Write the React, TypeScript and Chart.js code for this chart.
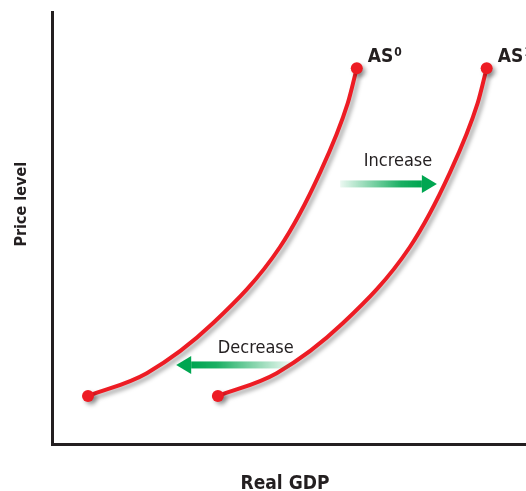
import React, { useEffect, useRef } from "react";
import { Chart, registerables } from "chart.js";

Chart.register(...registerables);

// Aggregate supply curves (x = real GDP, y = price level, arbitrary units 0-100)
const as0X = [7.6, 20.0, 34.0, 48.1, 56.5, 62.4, 64.3];
const as0Y = [11.1, 16.4, 28.0, 45.6, 62.7, 78.9, 87.0];
const as1X = [35.0, 47.4, 61.4, 75.5, 83.9, 89.8, 91.7];
const as1Y = [11.1, 16.4, 28.0, 45.6, 62.7, 78.9, 87.0];

const seriesLabels = ["AS", "AS"];
const seriesSup = ["0", "1"];

// Shift arrows: [tailX, tipX, y]
const increaseArrow = [60.8, 81.2, 60.2];
const decreaseArrow = [50.2, 26.2, 18.3];
// Annotation texts: [text, centerX, baselineY]
const annotations: [string, number, number][] = [
  ["Increase", 73.0, 64.4],
  ["Decrease", 43.0, 21.1],
];

const xTitle = "Real GDP";
const yTitle = "Price level";

const RED = "#ed1c24";
const GREEN = "0,166,81";
const INK = "#231f20";
const COND = "'Liberation Sans Narrow', 'DejaVu Sans Condensed', 'Noto Sans', sans-serif";

const shadowPlugin = {
  id: "shadow",
  beforeDatasetsDraw(chart: any) {
    const ctx = chart.ctx;
    ctx.save();
    ctx.shadowColor = "rgba(0,0,0,0.35)";
    ctx.shadowBlur = 4;
    ctx.shadowOffsetX = 3;
    ctx.shadowOffsetY = 3;
  },
  afterDatasetsDraw(chart: any) {
    chart.ctx.restore();
  },
};

const overlayPlugin = {
  id: "overlay",
  afterDraw(chart: any) {
    const ctx = chart.ctx;
    const xs = chart.scales.x;
    const ys = chart.scales.y;
    const area = chart.chartArea;
    ctx.save();

    // AS labels at last point of each curve
    chart.data.datasets.forEach((_: any, i: number) => {
      const meta = chart.getDatasetMeta(i);
      const pt = meta.data[meta.data.length - 1];
      const x = pt.x + 11;
      const y = pt.y - 6;
      ctx.fillStyle = INK;
      ctx.textAlign = "left";
      ctx.textBaseline = "alphabetic";
      ctx.font = `bold 19px ${COND}`;
      ctx.fillText(seriesLabels[i], x, y);
      const w = ctx.measureText(seriesLabels[i]).width;
      ctx.font = `bold 12px ${COND}`;
      ctx.fillText(seriesSup[i], x + w + 1, y - 6);
    });

    // Arrows
    const drawArrow = (a: number[]) => {
      const tx = xs.getPixelForValue(a[0]);
      const hx = xs.getPixelForValue(a[1]);
      const y = ys.getPixelForValue(a[2]);
      const dir = hx > tx ? 1 : -1;
      const headLen = 15;
      const headH = 9;
      const shaft = 3.5;
      const baseX = hx - dir * headLen;
      const g = ctx.createLinearGradient(tx, 0, baseX, 0);
      g.addColorStop(0, `rgba(${GREEN},0.08)`);
      g.addColorStop(0.75, `rgba(${GREEN},0.9)`);
      g.addColorStop(1, `rgba(${GREEN},1)`);
      ctx.fillStyle = g;
      ctx.fillRect(Math.min(tx, baseX), y - shaft, Math.abs(baseX - tx), shaft * 2);
      ctx.fillStyle = `rgb(${GREEN})`;
      ctx.beginPath();
      ctx.moveTo(hx, y);
      ctx.lineTo(baseX, y - headH);
      ctx.lineTo(baseX, y + headH);
      ctx.closePath();
      ctx.fill();
    };
    drawArrow(increaseArrow);
    drawArrow(decreaseArrow);

    // Annotation texts
    ctx.fillStyle = INK;
    ctx.font = `18px ${COND}`;
    ctx.textAlign = "center";
    ctx.textBaseline = "alphabetic";
    annotations.forEach(([t, x, y]) => {
      ctx.fillText(t, xs.getPixelForValue(x), ys.getPixelForValue(y));
    });

    // Axis titles
    ctx.font = `bold 19px ${COND}`;
    ctx.fillText(xTitle, (area.left + area.right) / 2 - 4, area.bottom + 45);
    ctx.save();
    ctx.translate(26, area.top + (area.bottom - area.top) * 0.445);
    ctx.rotate(-Math.PI / 2);
    ctx.font = `bold 16px ${COND}`;
    ctx.fillText(yTitle, 0, 0);
    ctx.restore();

    ctx.restore();
  },
};

function toPoints(xs: number[], ys: number[]) {
  return xs.map((x, i) => ({ x, y: ys[i] }));
}

export default function App() {
  const ref = useRef<HTMLCanvasElement>(null);
  useEffect(() => {
    if (!ref.current) return;
    const endRadius = (ctx: any) =>
      ctx.dataIndex === 0 || ctx.dataIndex === ctx.dataset.data.length - 1 ? 6 : 0;
    const mk = (xs: number[], ys: number[]) => ({
      data: toPoints(xs, ys),
      showLine: true,
      borderColor: RED,
      backgroundColor: RED,
      borderWidth: 4,
      pointRadius: endRadius,
      pointBorderWidth: 0,
      pointBackgroundColor: RED,
      cubicInterpolationMode: "monotone" as const,
      clip: false as any,
    });
    const chart = new Chart(ref.current, {
      type: "scatter",
      data: { datasets: [mk(as0X, as0Y), mk(as1X, as1Y)] },
      options: {
        animation: false,
        responsive: false,
        maintainAspectRatio: false,
        layout: { autoPadding: false, padding: { left: 52, right: 0, top: 12, bottom: 47 } },
        plugins: { legend: { display: false }, tooltip: { enabled: false } },
        scales: {
          x: {
            type: "linear",
            min: 0,
            max: 100,
            grid: { display: false },
            ticks: { display: false },
            border: { display: true, color: INK, width: 3 },
            afterFit: (s: any) => {
              s.height = 0;
              s.paddingLeft = 0;
              s.paddingRight = 0;
            },
          },
          y: {
            type: "linear",
            min: 0,
            max: 100,
            grid: { display: false },
            ticks: { display: false },
            border: { display: true, color: INK, width: 3 },
            afterFit: (s: any) => {
              s.width = 0;
              s.paddingTop = 0;
              s.paddingBottom = 0;
            },
          },
        },
      },
      plugins: [shadowPlugin, overlayPlugin],
    });
    return () => chart.destroy();
  }, []);
  return (
    <div style={{ position: "fixed", left: 0, top: 0, width: 526, height: 491, background: "#fff", overflow: "hidden" }}>
      <canvas ref={ref} width={526} height={491} style={{ display: "block" }} />
    </div>
  );
}
